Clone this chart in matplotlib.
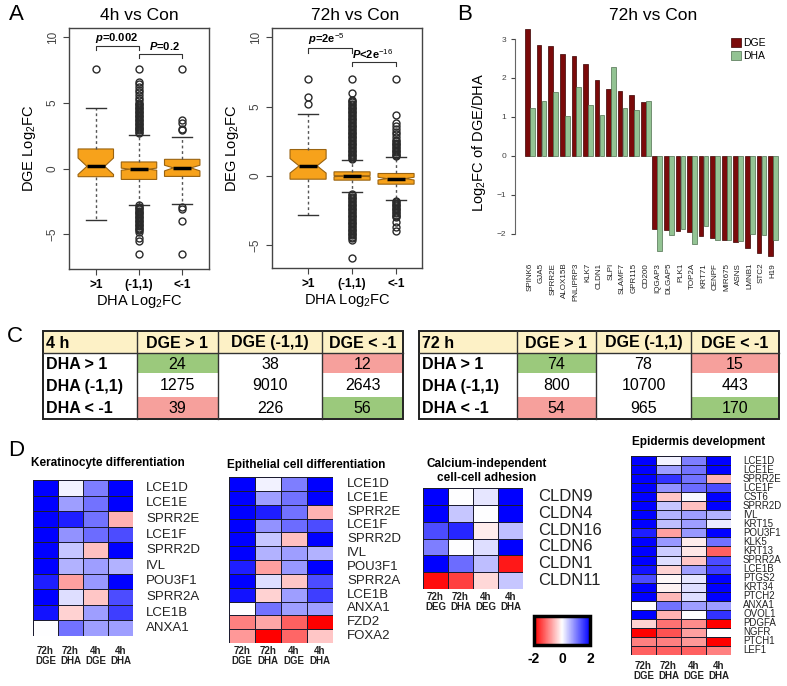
import matplotlib
matplotlib.use("Agg")
import matplotlib.pyplot as plt
import numpy as np
from matplotlib.colors import LinearSegmentedColormap, Normalize
from matplotlib.patches import Rectangle
from matplotlib.cm import ScalarMappable

plt.rcParams['font.family'] = ['Liberation Sans', 'DejaVu Sans']
plt.rcParams['mathtext.fontset'] = 'custom'
plt.rcParams['mathtext.rm'] = 'Liberation Sans'
plt.rcParams['mathtext.it'] = 'Liberation Sans:bold:italic'
plt.rcParams['mathtext.bf'] = 'Liberation Sans:bold'

# ---------------- data ----------------
# Panel A: boxplots of DGE log2FC grouped by DHA log2FC
groups = [">1", "(-1,1)", "<-1"]

med_4h = [0.17, -0.05, 0.05]
q1_4h = [-0.62, -0.83, -0.60]
q3_4h = [1.49, 0.50, 0.70]
whislo_4h = [-3.94, -2.75, -2.70]
whishi_4h = [4.60, 2.55, 2.40]
notch_4h = [(-0.45, 0.80), (-0.13, 0.03), (-0.18, 0.25)]
fliers_4h = [
    [7.6],
    [7.6, 6.6, 6.4, 6.2, 6.0, 5.8, 5.6, 5.4, 5.2, 5.0, 4.9, 4.8, 4.7, 4.6, 4.5, 4.4, 4.3,
     4.2, 4.1, 4.0, 3.9, 3.8, 3.7, 3.6, 3.5, 3.4, 3.3, 3.2, 3.1, 3.0, 2.9, 2.8, 2.7,
     -2.8, -2.9, -3.0, -3.1, -3.2, -3.3, -3.4, -3.5, -3.6, -3.7, -3.8, -3.9, -4.0, -4.1,
     -4.2, -4.3, -4.4, -4.5, -4.6, -4.7, -4.8, -5.3, -5.5, -6.5],
    [7.6, 3.7, 3.5, 3.0, 2.9, -2.9, -3.1, -4.0, -6.5],
]

med_72h = [0.72, -0.02, -0.20]
q1_72h = [-0.24, -0.31, -0.60]
q3_72h = [1.90, 0.29, 0.17]
whislo_72h = [-2.80, -1.20, -1.75]
whishi_72h = [4.45, 1.13, 1.37]
notch_72h = [(0.20, 1.25), (-0.06, 0.02), (-0.30, -0.10)]
fliers_72h = [
    [7.0, 5.7, 5.2],
    [7.0, 6.0, 5.5, 5.4, 5.3, 5.2, 5.1, 5.0, 4.9, 4.8, 4.7, 4.6, 4.5, 4.4, 4.3, 4.2, 4.1,
     4.0, 3.9, 3.8, 3.7, 3.6, 3.5, 3.4, 3.3, 3.2, 3.1, 3.0, 2.9, 2.8, 2.7, 2.6, 2.5, 2.4,
     2.3, 2.2, 2.1, 2.0, 1.9, 1.8, 1.7, 1.6, 1.5, 1.4, 1.3, 1.2,
     -1.3, -1.4, -1.5, -1.6, -1.7, -1.8, -1.9, -2.0, -2.1, -2.2, -2.3, -2.4, -2.5, -2.6,
     -2.7, -2.8, -2.9, -3.0, -3.1, -3.2, -3.3, -3.4, -3.5, -3.6, -3.7, -3.8, -3.9, -4.0,
     -4.1, -4.2, -4.3, -4.4, -4.5, -4.6, -5.9],
    [7.0, 4.4, 3.8, 3.6, 3.4, 3.2, 3.0, 2.8, 2.6, 2.5, 2.4, 2.3, 2.2, 2.1, 2.0, 1.9, 1.8,
     1.7, 1.6, 1.5, 1.4, -1.8, -1.9, -2.0, -2.1, -2.2, -2.3, -2.4, -2.5, -2.6, -2.7, -2.8,
     -2.9, -3.0, -3.3, -3.7, -4.0],
]

# Panel B: top genes, 72h vs Con
genes_b = ["SPINK6", "GJA5", "SPRR2E", "ALOX15B", "PNLIPRP3", "KLK7", "CLDN1", "SLPI",
           "SLAMF7", "GPR115", "CD200", "IQGAP3", "DLGAP5", "PLK1", "TOP2A", "KRT71",
           "CENPF", "MIR675", "ASNS", "LMNB1", "STC2", "H19"]
dge_b = [3.26, 2.85, 2.82, 2.61, 2.57, 2.37, 1.95, 1.72, 1.67, 1.57, 1.38,
         -1.88, -1.90, -1.93, -1.95, -2.06, -2.12, -2.16, -2.21, -2.37, -2.49, -2.57]
dha_b = [1.23, 1.41, 1.64, 1.03, 1.76, 1.30, 1.05, 2.27, 1.23, 1.17, 1.41,
         -2.44, -2.03, -1.88, -2.26, -1.80, -2.16, -2.16, -2.19, -2.01, -2.03, -2.16]

# Panel C: gene counts
dge_headers = ["DGE > 1", "DGE (-1,1)", "DGE < -1"]
dha_rows = ["DHA > 1", "DHA (-1,1)", "DHA < -1"]
counts_4h = [[24, 38, 12], [1275, 9010, 2643], [39, 226, 56]]
counts_72h = [[74, 78, 15], [800, 10700, 443], [54, 965, 170]]

# Panel D: heatmaps (72h DGE, 72h DHA, 4h DGE, 4h DHA)
genes_kd = ["LCE1D", "LCE1E", "SPRR2E", "LCE1F", "SPRR2D", "IVL", "POU3F1", "SPRR2A",
            "LCE1B", "ANXA1"]
vals_kd = [[2.0, 0.1, 1.0, 2.0], [2.0, 0.75, 1.1, 2.0], [2.0, 1.75, 1.1, -0.6],
           [2.0, 0.85, 1.15, 1.4], [2.0, 0.45, -0.5, 2.0], [2.0, 0.6, 0.75, 0.6],
           [1.75, -0.75, 0.8, 2.0], [2.0, 0.25, -0.45, 1.4], [1.85, -0.35, 0.75, 1.5],
           [0.0, 1.1, 0.75, 0.75]]

genes_ecd = ["LCE1D", "LCE1E", "SPRR2E", "LCE1F", "SPRR2D", "IVL", "POU3F1", "SPRR2A",
             "LCE1B", "ANXA1", "FZD2", "FOXA2"]
vals_ecd = [[2.0, 0.1, 1.0, 2.0], [2.0, 0.75, 1.1, 2.0], [2.0, 1.75, 1.1, -0.6],
            [2.0, 0.85, 1.15, 1.4], [2.0, 0.45, -0.5, 2.0], [2.0, 0.6, 0.75, 0.6],
            [1.75, -0.75, 0.8, 2.0], [2.0, 0.25, -0.45, 1.4], [1.85, -0.35, 0.75, 1.5],
            [0.0, 1.1, 0.75, 0.75], [-1.0, -0.7, -1.25, -2.0], [-0.8, -2.0, -1.2, -0.45]]

genes_cca = ["CLDN9", "CLDN4", "CLDN16", "CLDN6", "CLDN1", "CLDN11"]
vals_cca = [[2.0, 0.0, 0.2, 2.0], [2.0, 0.45, 0.0, 2.0], [1.4, 1.7, -0.15, 0.5],
            [1.0, 0.0, 0.25, 2.0], [2.0, 1.15, 0.5, -1.8], [-1.9, -1.5, -0.3, 0.45]]

genes_epi = ["LCE1D", "LCE1E", "SPRR2E", "LCE1F", "CST6", "SPRR2D", "IVL", "KRT15",
             "POU3F1", "KLK5", "KRT13", "SPRR2A", "LCE1B", "PTGS2", "KRT34", "PTCH2",
             "ANXA1", "OVOL1", "PDGFA", "NGFR", "PTCH1", "LEF1"]
vals_epi = [[2.0, 0.1, 1.0, 2.0], [2.0, 0.75, 1.1, 2.0], [2.0, 1.6, 1.1, -0.6],
            [2.0, 0.85, 1.15, 1.4], [2.0, -0.45, 0.05, 2.0], [2.0, 0.45, -0.5, 2.0],
            [2.0, 0.6, 0.75, 0.6], [2.0, 0.5, 0.75, 0.15], [1.75, -0.75, 0.8, 2.0],
            [2.0, 0.8, -0.15, 1.1], [2.0, 0.4, -0.2, -1.25], [2.0, 0.25, -0.45, 1.4],
            [1.85, -0.35, 0.75, 1.5], [1.4, -0.05, 0.2, 2.0], [2.0, -0.1, 0.25, 2.0],
            [2.0, -0.55, 0.25, 2.0], [0.0, 1.1, 0.75, 0.75], [2.0, -0.6, 0.0, 1.6],
            [-0.35, -1.1, -0.9, -2.0], [-2.0, -1.35, -0.75, 0.0], [-1.0, -1.0, -0.8, -2.0],
            [-1.25, -1.25, -1.25, -1.0]]

cols_dge = ["72h\nDGE", "72h\nDHA", "4h\nDGE", "4h\nDHA"]
cols_deg = ["72h\nDEG", "72h\nDHA", "4h\nDEG", "4h\nDHA"]

# ---------------- figure ----------------
W, H = 787, 686
fig = plt.figure(figsize=(W / 100, H / 100), dpi=100)


def px_axes(x0, y0, x1, y1):
    return fig.add_axes([x0 / W, 1 - y1 / H, (x1 - x0) / W, (y1 - y0) / H])


def ftext(x, y, s, **kw):
    return fig.text(x / W, 1 - y / H, s, **kw)


# ---- Panel A ----
def box_panel(ax, med, q1, q3, lo, hi, ci, fliers, ylim, xlim, ylabel):
    stats = [dict(med=med[i], q1=q1[i], q3=q3[i], whislo=lo[i], whishi=hi[i],
                  cilo=ci[i][0], cihi=ci[i][1], fliers=fliers[i], label=groups[i])
             for i in range(3)]
    ax.bxp(stats, positions=[1, 2, 3], widths=0.82, shownotches=True, patch_artist=True,
           capwidths=0.45,
           boxprops=dict(facecolor='#f7a21b', edgecolor='#9a6310', linewidth=0.8),
           medianprops=dict(color='black', linewidth=2.5),
           whiskerprops=dict(color='#555555', linestyle=(0, (2, 2)), linewidth=1),
           capprops=dict(color='#333333', linewidth=1),
           flierprops=dict(marker='o', markerfacecolor='none', markeredgecolor='#2a2a2a',
                           markersize=5, markeredgewidth=1.0))
    ax.set_xlim(*xlim)
    ax.set_ylim(*ylim)
    ax.set_yticks([-5, 0, 5, 10])
    ax.tick_params(axis='y', labelrotation=90, labelsize=8.5, length=4, colors='#444444')
    ax.tick_params(axis='x', labelsize=8.5, length=4, colors='#444444')
    for lab in ax.get_xticklabels():
        lab.set_fontweight('bold')
        lab.set_color('black')
    for lab in ax.get_yticklabels():
        lab.set_va('center')
    for sp in ax.spines.values():
        sp.set_color('#444444')
        sp.set_linewidth(1)
    ax.set_ylabel(ylabel, fontsize=10.5, labelpad=6)
    ax.set_xlabel(r"DHA Log$_2$FC", fontsize=10.5, labelpad=1)


def bracket(ax, x1, x2, y, txt, tx, ha='center'):
    ax.plot([x1, x1, x2, x2], [y - 0.3, y, y, y - 0.3], color='#333333', lw=0.8)
    ax.text(tx, y + 0.1, txt, ha=ha, va='bottom', fontsize=8, fontweight='bold')


axA1 = px_axes(69, 28, 209, 269)
box_panel(axA1, med_4h, q1_4h, q3_4h, whislo_4h, whishi_4h, notch_4h, fliers_4h,
          (-7.65, 10.7), (0.38, 3.62), r"DGE Log$_2$FC")
bracket(axA1, 1, 2, 9.3, r"$\it{p}$=0.002", 1.48)
bracket(axA1, 2, 3, 8.75, r"$\it{P}$=0.2", 2.6)
ftext(139, 15, "4h vs Con", ha='center', va='center', fontsize=12.5)

axA2 = px_axes(272, 28, 422, 268)
box_panel(axA2, med_72h, q1_72h, q3_72h, whislo_72h, whishi_72h, notch_72h, fliers_72h,
          (-6.65, 10.67), (0.18, 3.59), r"DEG Log$_2$FC")
bracket(axA2, 1, 2, 9.2, r"$\it{p}$=2e$^{-5}$", 1.0, ha='left')
bracket(axA2, 2, 3, 8.2, r"$\it{P}$<2e$^{-16}$", 2.0, ha='left')
ftext(355, 15, "72h vs Con", ha='center', va='center', fontsize=12.5)

ftext(16, 15, "A", ha='center', va='center', fontsize=16)

# ---- Panel B ----
axB = px_axes(515, 25, 785, 260)
xb = np.arange(len(genes_b))
axB.bar(xb - 0.215, dge_b, 0.4, color='#7b0a0a', edgecolor='#3a0000', linewidth=0.5,
        label='DGE')
axB.bar(xb + 0.215, dha_b, 0.4, color='#93c393', edgecolor='#4f6f4f', linewidth=0.5,
        label='DHA')
axB.set_xlim(-1.3, 22.04)
axB.set_ylim(-2.68, 3.36)
for s in ['top', 'right', 'bottom']:
    axB.spines[s].set_visible(False)
axB.spines['left'].set_bounds(-2, 3)
axB.spines['left'].set_color('#666666')
axB.spines['left'].set_linewidth(0.8)
axB.set_yticks([-2, -1, 0, 1, 2, 3])
axB.tick_params(axis='y', labelsize=6, length=3, colors='#444444', width=0.8)
axB.set_xticks(xb)
axB.set_xticklabels(genes_b, rotation=90, fontsize=5.8, color='#222222')
axB.tick_params(axis='x', length=0, pad=2)
axB.set_ylabel(r"Log$_2$FC of DGE/DHA", fontsize=10.5, labelpad=6)
axB.legend(loc='upper left', bbox_to_anchor=(726 / W, 1 - 33 / H),
           bbox_transform=fig.transFigure, frameon=False, fontsize=7.5,
           handlelength=0.9, handleheight=0.9, handletextpad=0.2, labelspacing=0.25,
           borderpad=0)
ftext(653, 15, "72h vs Con", ha='center', va='center', fontsize=12.5)
ftext(465, 15, "B", ha='center', va='center', fontsize=16)

# ---- Panel C ----
header_fill = '#fdf1c6'
green_fill = '#9bc97c'
red_fill = '#f6a09c'
fill_grid = [[green_fill, 'white', red_fill],
             ['white', 'white', 'white'],
             [red_fill, 'white', green_fill]]
row_edges = [331, 353, 374, 396, 419]


def draw_table(x_edges, corner, counts):
    ax = px_axes(x_edges[0], row_edges[0], x_edges[-1], row_edges[-1])
    ax.set_xlim(x_edges[0], x_edges[-1])
    ax.set_ylim(row_edges[-1], row_edges[0])
    ax.axis('off')
    heads = [corner] + dge_headers
    for c in range(4):
        ax.add_patch(Rectangle((x_edges[c], row_edges[0]), x_edges[c + 1] - x_edges[c],
                               row_edges[1] - row_edges[0], facecolor=header_fill,
                               edgecolor='none'))
        ym = (row_edges[0] + row_edges[1]) / 2
        if c == 0:
            ax.text(x_edges[0] + 3, ym + 1, heads[c], ha='left', va='center',
                    fontsize=11.5, fontweight='bold')
        else:
            ax.text((x_edges[c] + x_edges[c + 1]) / 2, ym + 1, heads[c], ha='center',
                    va='center', fontsize=11.5, fontweight='bold')
    for r in range(3):
        y0, y1 = row_edges[r + 1], row_edges[r + 2]
        ym = (y0 + y1) / 2
        ax.text(x_edges[0] + 3, ym + 1, dha_rows[r], ha='left', va='center',
                fontsize=11.5, fontweight='bold')
        for c in range(3):
            ax.add_patch(Rectangle((x_edges[c + 1], y0 + 1.2), x_edges[c + 2] - x_edges[c + 1],
                                   y1 - y0 - 2.4, facecolor=fill_grid[r][c],
                                   edgecolor='none'))
            ax.text((x_edges[c + 1] + x_edges[c + 2]) / 2, ym + 1, str(counts[r][c]),
                    ha='center', va='center', fontsize=11.5)
    for xe in x_edges[1:-1]:
        ax.plot([xe, xe], [row_edges[0], row_edges[-1]], color='#333333', lw=1,
                clip_on=False)
    ax.plot([x_edges[0], x_edges[-1]], [row_edges[1], row_edges[1]], color='#333333',
            lw=1, clip_on=False)
    ax.add_patch(Rectangle((x_edges[0], row_edges[0]), x_edges[-1] - x_edges[0],
                           row_edges[-1] - row_edges[0], facecolor='none',
                           edgecolor='#222222', linewidth=1.4, clip_on=False))


draw_table([43, 137, 218, 322, 403], "4 h", counts_4h)
draw_table([419, 517, 596, 691, 779], "72 h", counts_72h)
ftext(15, 336, "C", ha='center', va='center', fontsize=16)

# ---- Panel D ----
cmap = LinearSegmentedColormap.from_list('rwb', ['#ff0000', '#ffffff', '#0000ff'])


def heatmap(x0, y0, x1, y1, vals, genes, gene_x, gene_fs, col_labels, col_y):
    ax = px_axes(x0, y0, x1, y1)
    v = np.array(vals)
    ax.pcolormesh(v, cmap=cmap, vmin=-2, vmax=2, edgecolors='#1c1c30', linewidth=0.7)
    ax.set_xlim(0, 4)
    ax.set_ylim(len(genes), 0)
    ax.axis('off')
    rh = (y1 - y0) / len(genes)
    for i, g in enumerate(genes):
        ftext(gene_x, y0 + (i + 0.5) * rh, g, ha='left', va='center', fontsize=gene_fs,
              color='#222222')
    cw = (x1 - x0) / 4
    for j, lab in enumerate(col_labels):
        ftext(x0 + (j + 0.5) * cw, col_y, lab, ha='center', va='top', fontsize=7,
              fontweight='bold', linespacing=1.05, color='#222222')


heatmap(33, 480, 133, 636, vals_kd, genes_kd, 146, 9.5, cols_dge, 646)
ftext(31, 463, "Keratinocyte differentiation", ha='left', va='center', fontsize=8.5,
      fontweight='bold')

heatmap(229, 477, 333, 643, vals_ecd, genes_ecd, 347, 9.5, cols_dge, 646)
ftext(227, 465, "Epithelial cell differentiation", ha='left', va='center', fontsize=8.5,
      fontweight='bold')

heatmap(423, 488, 523, 589, vals_cca, genes_cca, 538, 12, cols_deg, 592)
ftext(487, 471, "Calcium-independent\ncell-cell adhesion", ha='center', va='center',
      fontsize=8.5, fontweight='bold', linespacing=1.3)

heatmap(631, 456, 731, 655, vals_epi, genes_epi, 743, 7, cols_dge, 661)
ftext(632, 442, "Epidermis development", ha='left', va='center', fontsize=8.5,
      fontweight='bold')

cax = px_axes(534, 616, 590, 645)
cb = fig.colorbar(ScalarMappable(norm=Normalize(-2, 2), cmap=cmap), cax=cax,
                  orientation='horizontal')
cb.set_ticks([-2, 0, 2])
cb.ax.set_xticklabels(["-2", "0", "2"], fontweight='bold')
cb.outline.set_linewidth(2.5)
cax.tick_params(length=0, labelsize=10, pad=5)

ftext(16, 450, "D", ha='center', va='center', fontsize=16)

fig.savefig("out.png", dpi=100)
